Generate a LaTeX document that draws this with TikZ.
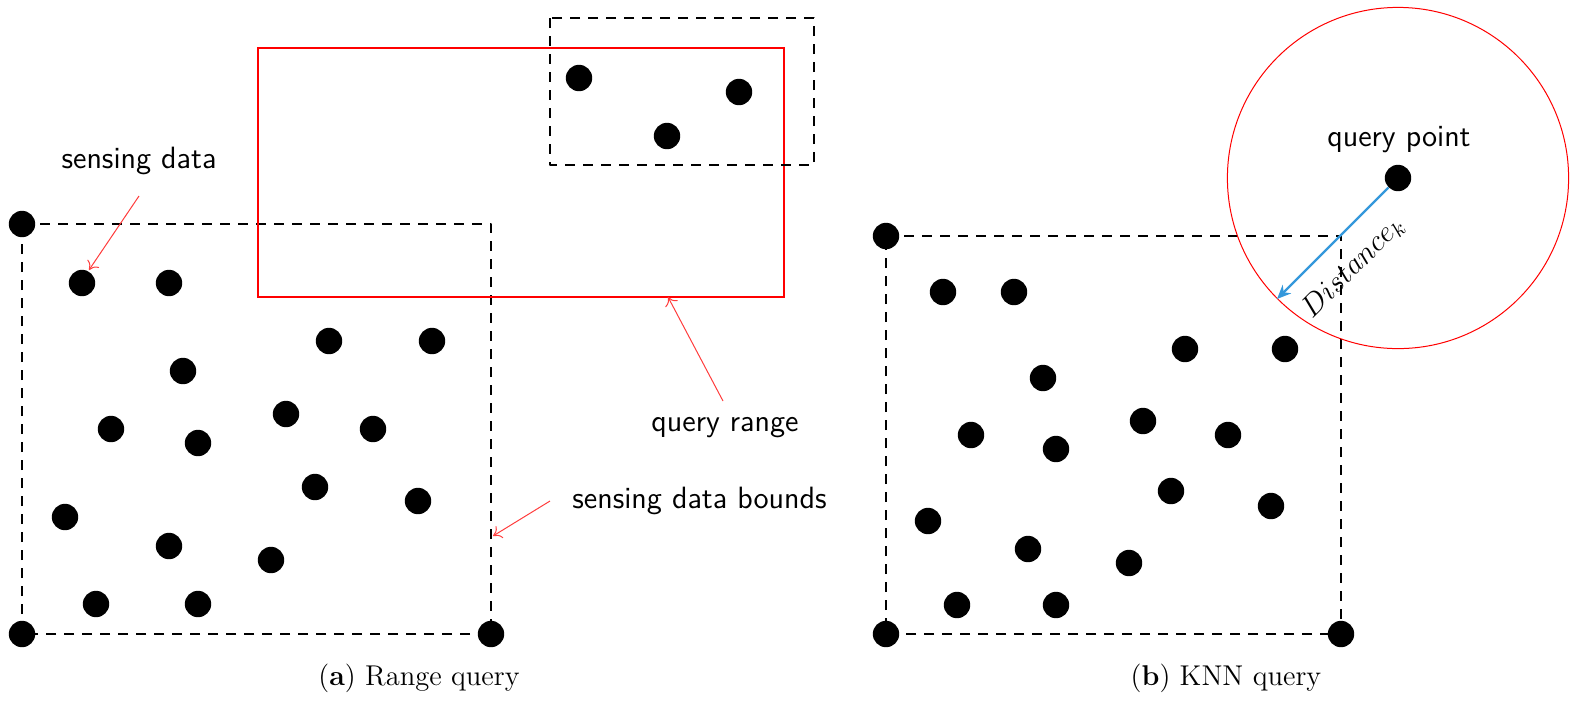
\documentclass[tikz,border=0pt]{standalone}
\usepackage{fix-cm}
\usepackage{fontspec}
\usetikzlibrary{arrows.meta}
\definecolor{qred}{RGB}{255,0,0}
\definecolor{lred}{RGB}{255,60,60}
\definecolor{qblue}{RGB}{52,152,219}
\tikzset{
 dot/.style={circle,fill=black,inner sep=0pt,minimum size=13.2pt},
 bounds/.style={draw=black,line width=1.1pt,dash pattern=on 5pt off 4pt,line join=round},
 lbl/.style={font=\sffamily\fontsize{15.4}{18}\selectfont,inner sep=0pt},
 captext/.style={font=\fontsize{14.3}{17}\selectfont,inner sep=0pt},
 redarrow/.style={draw=lred,line width=0.5pt,-{To[length=4pt,width=7pt]}},
 bluearrow/.style={draw=qblue,line width=1.1pt,-{Stealth[length=7pt,width=6pt]}},
}
\begin{document}
\begin{tikzpicture}[x=0.5pt,y=-0.5pt]
\useasboundingbox (0,0) rectangle (1579,703);
% ---------- (a) Range query ----------
\coordinate (atl) at (22,224);
\coordinate (atr) at (491,224);
\coordinate (abr) at (491,634);
\coordinate (abl) at (22,634);
\draw[bounds] (atl) -- (atr) -- (abr) -- (abl) -- cycle;
\node[dot] (ac1) at (atl) {};
\node[dot] (ac2) at (abl) {};
\node[dot] (ac3) at (abr) {};
\node[dot] (a1) at (82,283) {};
\node[dot] (a2) at (169,283) {};
\node[dot] (a3) at (183,371) {};
\node[dot] (a4) at (111,429) {};
\node[dot] (a5) at (198,443) {};
\node[dot] (a6) at (65,517) {};
\node[dot] (a7) at (169,546) {};
\node[dot] (a8) at (96,604) {};
\node[dot] (a9) at (198,604) {};
\node[dot] (a10) at (271,560) {};
\node[dot] (a11) at (315,487) {};
\node[dot] (a12) at (286,414) {};
\node[dot] (a13) at (373,429) {};
\node[dot] (a14) at (329,341) {};
\node[dot] (a15) at (432,341) {};
\node[dot] (a16) at (418,501) {};
% query range rectangle
\draw[draw=qred,line width=0.55pt] (258,48) rectangle (784,297);
\coordinate (qrb) at (668,297);
% small dashed box
\draw[bounds] (550,18) rectangle (814,165);
\node[dot] (s1) at (579,78) {};
\node[dot] (s2) at (739,92) {};
\node[dot] (s3) at (667,136) {};
% labels
\node[lbl] (lsd) at (139,161) {sensing data};
\coordinate (lsdA) at (139,196);
\coordinate (lsdB) at (89,270);
\draw[redarrow] (lsdA) -- (lsdB);
\node[lbl] (lqr) at (725,428) {query range};
\coordinate (lqrA) at (723,401);
\draw[redarrow] (lqrA) -- (qrb);
\node[lbl,anchor=west] (lsb) at (572,501) {sensing data bounds};
\coordinate (lsbA) at (550,501);
\coordinate (lsbB) at (493,536);
\draw[redarrow] (lsbA) -- (lsbB);
\node[captext] (capa) at (419,678) {(\textbf{a}) Range query};
% ---------- (b) KNN query ----------
\coordinate (btl) at (886,236);
\coordinate (btr) at (1341,236);
\coordinate (bbr) at (1341,634);
\coordinate (bbl) at (886,634);
\draw[bounds] (btl) -- (btr) -- (bbr) -- (bbl) -- cycle;
\node[dot] (bc1) at (btl) {};
\node[dot] (bc2) at (bbl) {};
\node[dot] (bc3) at (bbr) {};
\node[dot] (b1) at (943,292) {};
\node[dot] (b2) at (1014,292) {};
\node[dot] (b3) at (1043,378) {};
\node[dot] (b4) at (971,435) {};
\node[dot] (b5) at (1056,449) {};
\node[dot] (b6) at (928,521) {};
\node[dot] (b7) at (1028,549) {};
\node[dot] (b8) at (957,605) {};
\node[dot] (b9) at (1056,605) {};
\node[dot] (b10) at (1129,563) {};
\node[dot] (b11) at (1171,491) {};
\node[dot] (b12) at (1143,421) {};
\node[dot] (b13) at (1228,435) {};
\node[dot] (b14) at (1185,349) {};
\node[dot] (b15) at (1285,349) {};
\node[dot] (b16) at (1271,506) {};
% query point and circle
\node[dot] (qp) at (1398,178) {};
\draw[draw=qred,line width=0.5pt] (qp.center) circle (85.3pt);
\node[lbl] (lqp) at (1399,140) {query point};
\coordinate (qend) at (1277,299);
\draw[bluearrow] (qp) -- (qend);
\node[inner sep=0pt,rotate=45,font=\fontsize{15}{18}\selectfont] (dk) at (1353,267) {$Distance_k$};
\node[captext] (capb) at (1226,678) {(\textbf{b}) KNN query};
\end{tikzpicture}
\end{document}
